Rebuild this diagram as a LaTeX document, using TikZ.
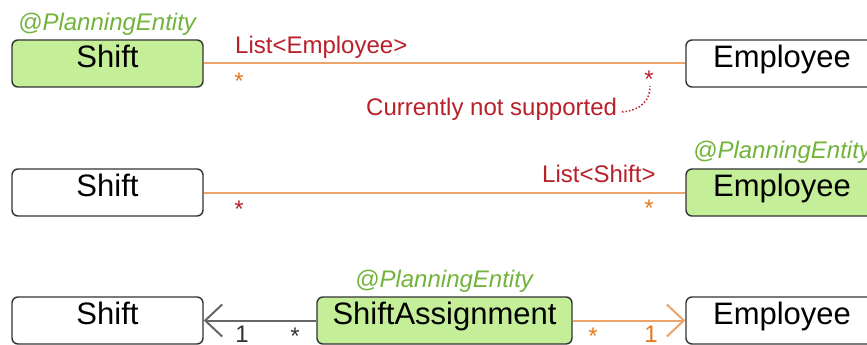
\documentclass[tikz,border=0pt]{standalone}
\usepackage{fontspec}
\setmainfont{Liberation Sans}
\usetikzlibrary{arrows.meta}
\definecolor{boxgreen}{HTML}{C5EE98}
\definecolor{entgreen}{HTML}{72B43A}
\definecolor{lblred}{HTML}{B8202A}
\definecolor{lineorange}{HTML}{EAA46C}
\definecolor{darkorange}{HTML}{E8781E}
\definecolor{bordergray}{HTML}{333333}
\definecolor{assocgray}{HTML}{666666}
\tikzset{
  box/.style={draw=bordergray, line width=1.4pt, rounded corners=6pt,
    minimum width=191pt, minimum height=47pt, inner sep=2pt,
    font=\fontsize{31}{31}\selectfont, text height=22pt, text depth=14pt},
  entbox/.style={box, fill=boxgreen},
  plainbox/.style={box, fill=white},
  ent/.style={text=entgreen, font=\fontsize{24}{24}\selectfont\itshape, anchor=base west, inner sep=0pt},
  lbl/.style={text=lblred, font=\fontsize{24}{24}\selectfont, anchor=base west, inner sep=0pt},
  mult/.style={font=\fontsize{24}{24}\selectfont, anchor=base, inner sep=0pt},
  conn/.style={draw=lineorange, line width=2pt},
  gconn/.style={draw=assocgray, line width=2pt},
  barb/.style={-{Straight Barb[length=17pt,width=32pt]}}
}
\begin{document}
\begin{tikzpicture}[x=1pt,y=-1pt]
\clip (0,0) rectangle (867,345);
\fill[white] (0,0) rectangle (867,345);

% Row 1
\node[entbox, minimum width=191pt] (s1) at (107.5,63.5) {Shift};
\node[plainbox, minimum width=192pt] (e1) at (782,63.5) {Employee};
\node[ent] (pe1) at (18,31) {@PlanningEntity};
\draw[conn] (s1.east) -- (e1.west);
\node[lbl] (l1) at (235,53) {List<Employee>};
\node[mult, text=darkorange] (m1a) at (239,89) {*};
\node[mult, text=lblred] (m1b) at (649,88) {*};
\node[lbl] (cns) at (366,115) {Currently not supported};
\coordinate (d1) at (622,112);
\coordinate (d2) at (650,86);
\draw[lblred, dotted, line width=1.5pt] (d1) .. controls (642,110) and (650,100) .. (d2);

% Row 2
\node[plainbox] (s2) at (107.5,192.5) {Shift};
\node[entbox, minimum width=192pt] (e2) at (782,192.5) {Employee};
\node[ent] (pe2) at (693,158) {@PlanningEntity};
\draw[conn] (s2.east) -- (e2.west);
\node[lbl] (l2) at (542,182) {List<Shift>};
\node[mult, text=lblred] (m2a) at (239,217) {*};
\node[mult, text=darkorange] (m2b) at (649,216) {*};

% Row 3
\node[plainbox] (s3) at (107.5,320.5) {Shift};
\node[entbox, minimum width=255pt] (sa3) at (444.5,320.5) {ShiftAssignment};
\node[plainbox, minimum width=192pt] (e3) at (782,320.5) {Employee};
\node[ent] (pe3) at (355,287) {@PlanningEntity};
\draw[gconn, barb] (sa3.west) -- (s3.east);
\draw[conn, barb] (sa3.east) -- (e3.west);
\node[mult, text=black!80] (m3a) at (242,342) {1};
\node[mult, text=black!80] (m3b) at (295,344) {*};
\node[mult, text=darkorange] (m3c) at (593,344) {*};
\node[mult, text=darkorange] (m3d) at (651,342) {1};
\end{tikzpicture}
\end{document}
